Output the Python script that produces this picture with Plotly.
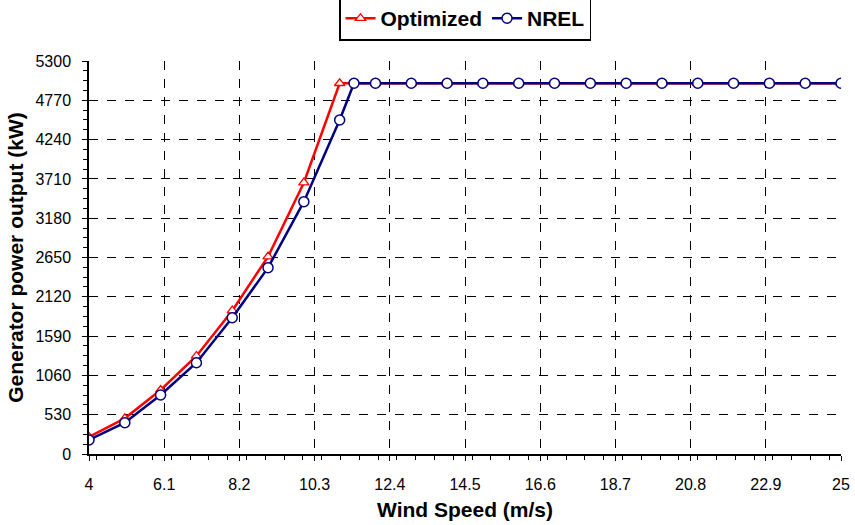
import plotly.graph_objects as go

# Wind speed samples (m/s)
speed_opt = [4, 5, 6, 7, 8, 9, 10, 11, 12, 13, 14, 15, 16, 17, 18, 19, 20, 21, 22, 23, 24, 25]
speed_nrel = [4, 5, 6, 7, 8, 9, 10, 11, 11.4, 12, 13, 14, 15, 16, 17, 18, 19, 20, 21, 22, 23, 24, 25]

# Generator power output (kW)
power_opt = [230, 481, 863, 1322, 1933, 2661, 3659, 5000,
             5000, 5000, 5000, 5000, 5000, 5000, 5000, 5000, 5000, 5000, 5000, 5000, 5000, 5000]
power_nrel = [189, 422, 796, 1231, 1838, 2513, 3403, 4504, 5000,
              5000, 5000, 5000, 5000, 5000, 5000, 5000, 5000, 5000, 5000, 5000, 5000, 5000, 5000]

x_ticks = [4, 6.1, 8.2, 10.3, 12.4, 14.5, 16.6, 18.7, 20.8, 22.9, 25]
y_ticks = [0, 530, 1060, 1590, 2120, 2650, 3180, 3710, 4240, 4770, 5300]

fig = go.Figure()
fig.add_trace(go.Scatter(
    x=speed_opt, y=power_opt, name="Optimized", mode="lines+markers",
    line=dict(color="#FF0000", width=2.5),
    marker=dict(symbol="triangle-up", size=9, color="white",
                line=dict(color="#FF0000", width=1.3)),
))
fig.add_trace(go.Scatter(
    x=speed_nrel, y=power_nrel, name="NREL", mode="lines+markers",
    line=dict(color="#000080", width=2.5),
    marker=dict(symbol="circle", size=10, color="white",
                line=dict(color="#000080", width=1.5)),
))

fig.update_layout(
    width=855, height=525,
    margin=dict(l=89, r=14, t=61, b=71, autoexpand=False),
    paper_bgcolor="white", plot_bgcolor="white",
    font=dict(family="Liberation Sans, Arial, sans-serif", color="black"),
    showlegend=True,
    legend=dict(
        orientation="h", x=0.5, xanchor="center", y=1.052, yanchor="bottom",
        bordercolor="black", borderwidth=1.5, bgcolor="white",
        font=dict(size=21, family="Liberation Sans, Arial, sans-serif", weight="bold"),
        itemwidth=30, tracegroupgap=0,
    ),
)

fig.update_xaxes(
    range=[4, 25], tickvals=x_ticks, ticktext=[str(v) for v in x_ticks],
    showline=True, linecolor="black", linewidth=1.5,
    ticks="outside", ticklen=5, tickcolor="black", tickwidth=1,
    minor=dict(dtick=0.525, ticks="outside", ticklen=4, tickcolor="black", showgrid=False),
    showgrid=True, gridcolor="black", gridwidth=1, griddash="dash",
    zeroline=False, ticklabelstandoff=10, automargin=False,
    tickfont=dict(size=16),
    title=dict(text="<b>Wind Speed (m/s)</b>", font=dict(size=21), standoff=10),
)
fig.update_yaxes(
    range=[0, 5300], tickvals=y_ticks,
    showline=True, linecolor="black", linewidth=1.5,
    ticks="outside", ticklen=5, tickcolor="black", tickwidth=1,
    minor=dict(dtick=132.5, ticks="outside", ticklen=4, tickcolor="black", showgrid=False),
    showgrid=True, gridcolor="black", gridwidth=1, griddash="dash",
    zeroline=False, ticklabelstandoff=8, automargin=False,
    tickfont=dict(size=16),
    title=dict(text="<b>Generator power output (kW)</b>", font=dict(size=21), standoff=6),
)

fig.write_html("out.html")
